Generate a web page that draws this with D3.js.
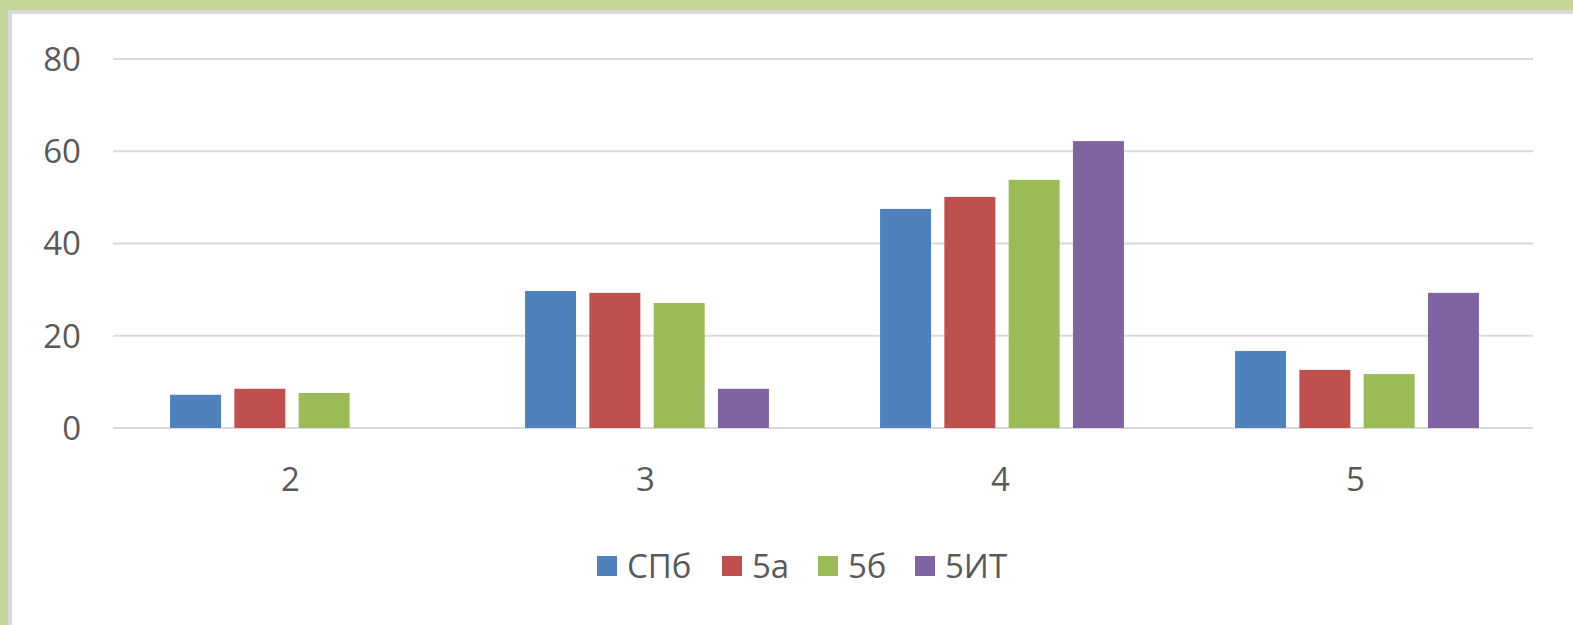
<!DOCTYPE html>
<html>
<head>
<meta charset="utf-8">
<script src="https://cdn.jsdelivr.net/npm/d3@7"></script>
<style>
  body { margin: 0; background: #fff; }
  text { font-family: "Open Sans", "Liberation Sans", sans-serif; fill: #595959; }
</style>
</head>
<body>
<script>
// chart data
var categories = ["2", "3", "4", "5"];
var seriesNames = ["СПб", "5а", "5б", "5ИТ"];
var seriesColors = ["#4F81BD", "#C0504D", "#9BBB59", "#8064A2"];
var valuesSPb = [7.2, 29.7, 47.5, 16.7];
var values5a = [8.5, 29.3, 50.1, 12.6];
var values5b = [7.6, 27.1, 53.8, 11.7];
var values5IT = [0, 8.5, 62.2, 29.3];
var yTicks = [0, 20, 40, 60, 80];

var allSeries = [valuesSPb, values5a, values5b, values5IT];

var width = 1573, height = 625;
var svg = d3.select("body").append("svg")
    .attr("width", width)
    .attr("height", height);

// frame: green band + gray inner edge
svg.append("rect").attr("x", 0).attr("y", 0).attr("width", width).attr("height", 10).attr("fill", "#C4D79B");
svg.append("rect").attr("x", 0).attr("y", 0).attr("width", 8).attr("height", height).attr("fill", "#C4D79B");
svg.append("rect").attr("x", 8).attr("y", 10).attr("width", width - 8).attr("height", 4).attr("fill", "#D9D9D9");
svg.append("rect").attr("x", 8).attr("y", 10).attr("width", 4).attr("height", height - 10).attr("fill", "#D9D9D9");

// plot area bounds
var plotLeft = 113, plotRight = 1533, plotTop = 59, plotBottom = 428;

var x0 = d3.scaleBand().domain(categories).range([plotLeft, plotRight]);
var y = d3.scaleLinear().domain([0, 80]).range([plotBottom, plotTop]);

// gridlines
svg.append("g").selectAll("line")
    .data(yTicks)
    .enter().append("line")
    .attr("x1", plotLeft).attr("x2", plotRight)
    .attr("y1", function(d) { return y(d); })
    .attr("y2", function(d) { return y(d); })
    .attr("stroke", "#D9D9D9")
    .attr("stroke-width", 2);

// y labels
svg.append("g").selectAll("text")
    .data(yTicks)
    .enter().append("text")
    .attr("x", 81)
    .attr("y", function(d) { return y(d); })
    .attr("dy", "0.36em")
    .attr("text-anchor", "end")
    .attr("font-size", "33px")
    .text(function(d) { return d; });

// bars
var barW = 51, step = 64.3;
seriesNames.forEach(function(name, si) {
    svg.append("g").selectAll("rect")
        .data(allSeries[si])
        .enter().append("rect")
        .attr("x", function(d, i) {
            var c = x0(categories[i]) + x0.bandwidth() / 2 + 1.5;
            return c - (3 * step + barW) / 2 + si * step;
        })
        .attr("y", function(d) { return y(d); })
        .attr("width", barW)
        .attr("height", function(d) { return plotBottom - y(d); })
        .attr("fill", seriesColors[si]);
});

// category labels
svg.append("g").selectAll("text")
    .data(categories)
    .enter().append("text")
    .attr("x", function(d) { return x0(d) + x0.bandwidth() / 2; })
    .attr("y", 479)
    .attr("dy", "0.36em")
    .attr("text-anchor", "middle")
    .attr("font-size", "33px")
    .text(function(d) { return d; });

// legend
var legendX = [597, 722, 818, 915];
var legend = svg.append("g");
seriesNames.forEach(function(name, i) {
    legend.append("rect")
        .attr("x", legendX[i]).attr("y", 556)
        .attr("width", 20).attr("height", 20)
        .attr("fill", seriesColors[i]);
    legend.append("text")
        .attr("x", legendX[i] + 30).attr("y", 566)
        .attr("dy", "0.36em")
        .attr("font-size", "33px")
        .text(name);
});
</script>
</body>
</html>
